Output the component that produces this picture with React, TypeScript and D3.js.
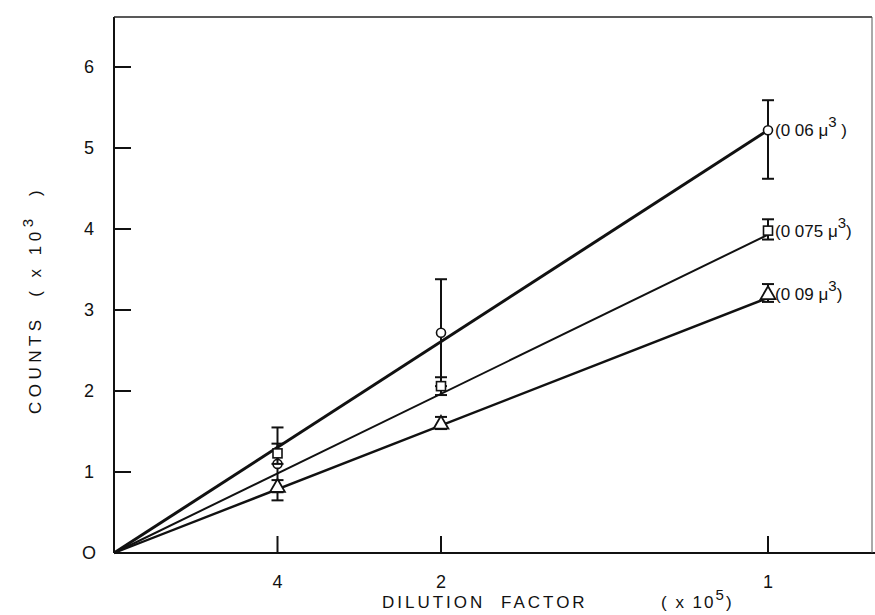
import React from "react";
import * as d3 from "d3";

// Dilution factors (x 10^5) at which counts were taken
const dilutions = [4, 2, 1];
const yTicks = [0, 1, 2, 3, 4, 5, 6];

// Particle volume labels (μ³)
const seriesLabels = ["0 06", "0 075", "0 09"];
const seriesMarkers = ["circle", "square", "triangle"];

// Mean counts (x 10^3) per dilution
const meansSmall = [1.1, 2.72, 5.22];
const meansMid = [1.23, 2.06, 3.98];
const meansLarge = [0.82, 1.6, 3.2];

// Error bar bounds
const lowSmall = [0.65, 2.06, 4.62];
const highSmall = [1.55, 3.38, 5.59];
const lowMid = [1.1, 1.95, 3.87];
const highMid = [1.35, 2.17, 4.12];
const lowLarge = [0.75, 1.53, 3.1];
const highLarge = [0.9, 1.68, 3.32];

// Fitted slopes of the straight lines through the origin
const slopes = [5.22, 3.93, 3.15];
const lineWidths = [3, 2, 2.4];

const W = 875;
const H = 615;
const left = 114;
const right = 872;
const top = 17;
const bottom = 553;

const FONT = "'Liberation Sans', Arial, sans-serif";

export default function App() {
  const x = d3.scaleLinear().domain([0, (right - left) / 654]).range([left, right]);
  const y = d3.scaleLinear().domain([0, (bottom - top) / 81]).range([bottom, top]);

  const means = [meansSmall, meansMid, meansLarge];
  const lows = [lowSmall, lowMid, lowLarge];
  const highs = [highSmall, highMid, highLarge];

  const line = d3
    .line<[number, number]>()
    .x((d) => x(d[0]))
    .y((d) => y(d[1]));

  const marker = (kind: string, cx: number, cy: number, key: string) => {
    if (kind === "circle")
      return <circle key={key} cx={cx} cy={cy} r={4.5} fill="white" stroke="#111" strokeWidth={1.6} />;
    if (kind === "square")
      return <rect key={key} x={cx - 4.5} y={cy - 4.5} width={9} height={9} fill="white" stroke="#111" strokeWidth={1.6} />;
    const tri = d3.symbol().type(d3.symbolTriangle).size(95)();
    return (
      <path key={key} d={tri || ""} transform={`translate(${cx},${cy + 1})`} fill="white" stroke="#111" strokeWidth={1.8} />
    );
  };

  const pre = { whiteSpace: "pre" as const };

  return (
    <svg width={W} height={H} style={{ position: "absolute", left: 0, top: 0, background: "white" }}>
      {/* frame */}
      <line x1={left} y1={top} x2={left} y2={bottom} stroke="#111" strokeWidth={2} />
      <line x1={left} y1={bottom} x2={W} y2={bottom} stroke="#111" strokeWidth={2} />
      <line x1={left} y1={top} x2={right} y2={top} stroke="#222" strokeWidth={1.5} />
      <line x1={right} y1={top} x2={right} y2={bottom} stroke="#555" strokeWidth={1} />

      {/* y ticks */}
      {yTicks.map((t) => (
        <g key={`yt${t}`}>
          {t > 0 && <line x1={left} x2={left + 17} y1={y(t)} y2={y(t)} stroke="#111" strokeWidth={2} />}
          <text x={89} y={y(t) + 6} textAnchor="middle" fontFamily={FONT} fontSize={18} fill="#111">
            {t === 0 ? "O" : t}
          </text>
        </g>
      ))}

      {/* x ticks */}
      {dilutions.map((dl) => (
        <g key={`xt${dl}`}>
          <line x1={x(1 / dl)} x2={x(1 / dl)} y1={bottom} y2={bottom - 17} stroke="#111" strokeWidth={2} />
          <text x={x(1 / dl)} y={588} textAnchor="middle" fontFamily={FONT} fontSize={18} fill="#111">
            {dl}
          </text>
        </g>
      ))}

      {/* fitted lines */}
      {slopes.map((s, i) => (
        <path
          key={`ln${i}`}
          d={line([
            [0, 0],
            [1, s],
          ]) || ""}
          fill="none"
          stroke="#111"
          strokeWidth={lineWidths[i]}
        />
      ))}

      {/* error bars and markers */}
      {means.map((arr, i) =>
        arr.map((m, j) => {
          const cx = x(1 / dilutions[j]);
          const lo = y(lows[i][j]);
          const hi = y(highs[i][j]);
          return (
            <g key={`pt${i}-${j}`}>
              <line x1={cx} x2={cx} y1={hi} y2={lo} stroke="#111" strokeWidth={2} />
              <line x1={cx - 6} x2={cx + 6} y1={hi} y2={hi} stroke="#111" strokeWidth={2} />
              <line x1={cx - 6} x2={cx + 6} y1={lo} y2={lo} stroke="#111" strokeWidth={2} />
              {marker(seriesMarkers[i], cx, y(m), `mk${i}-${j}`)}
            </g>
          );
        })
      )}

      {/* series labels */}
      {seriesLabels.map((lab, i) => (
        <text
          key={`lab${i}`}
          x={x(1) + 7}
          y={y(means[i][2]) + 6}
          fontFamily={FONT}
          fontSize={17}
          fill="#111"
          style={pre}
        >
          {`(${lab} μ`}
          <tspan dy={-9} fontSize={15}>3</tspan>
          <tspan dy={9}>{i === 0 ? " )" : ")"}</tspan>
        </text>
      ))}

      {/* x axis title */}
      <g fontFamily={FONT} fontSize={17} fill="#111" style={pre}>
        <text x={382} y={608} letterSpacing={3}>DILUTION</text>
        <text x={501} y={608} letterSpacing={3}>FACTOR</text>
        <text x={661} y={608} letterSpacing={2}>
          {"( x 10"}
          <tspan dy={-8} fontSize={15}>5</tspan>
          <tspan dy={8}>)</tspan>
        </text>
      </g>

      {/* y axis title */}
      <text
        transform={`translate(41, 300) rotate(-90)`}
        textAnchor="middle"
        fontFamily={FONT}
        fontSize={17}
        letterSpacing={4.5}
        fill="#111"
        style={pre}
      >
        {"COUNTS  ( x 10"}
        <tspan dy={-8} fontSize={15}>3</tspan>
        <tspan dy={8}>{"  )"}</tspan>
      </text>
    </svg>
  );
}
